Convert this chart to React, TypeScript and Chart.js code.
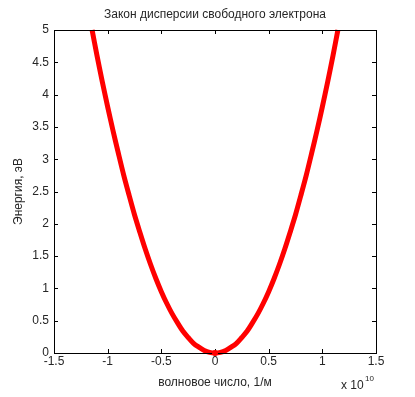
import React, { useEffect, useRef } from "react";
import { Chart, registerables } from "chart.js";

Chart.register(...registerables);

// wave number, units of 1e10 1/m
const waveNumbers = [
  -1.145, -1.1, -1.05, -1.0, -0.95, -0.9, -0.85, -0.8, -0.75, -0.7, -0.65, -0.6,
  -0.55, -0.5, -0.45, -0.4, -0.35, -0.3, -0.25, -0.2, -0.15, -0.1, -0.05, 0,
  0.05, 0.1, 0.15, 0.2, 0.25, 0.3, 0.35, 0.4, 0.45, 0.5, 0.55, 0.6, 0.65, 0.7,
  0.75, 0.8, 0.85, 0.9, 0.95, 1.0, 1.05, 1.1, 1.145,
];
// energy, eV
const energies = [
  5.0, 4.61, 4.2, 3.81, 3.44, 3.09, 2.75, 2.44, 2.14, 1.87, 1.61, 1.37,
  1.15, 0.95, 0.77, 0.61, 0.47, 0.34, 0.24, 0.15, 0.09, 0.04, 0.01, 0,
  0.01, 0.04, 0.09, 0.15, 0.24, 0.34, 0.47, 0.61, 0.77, 0.95, 1.15, 1.37, 1.61, 1.87,
  2.14, 2.44, 2.75, 3.09, 3.44, 3.81, 4.2, 4.61, 5.0,
];
const xTicks = [-1.5, -1, -0.5, 0, 0.5, 1, 1.5];
const yTicks = [0, 0.5, 1, 1.5, 2, 2.5, 3, 3.5, 4, 4.5, 5];

const titleText = "Закон дисперсии свободного электрона";
const xTitle = "волновое число, 1/м";
const yTitle = "Энергия, эВ";

const FONT = "'Liberation Sans', Arial, sans-serif";
const TEXT = "#262626";

const framePlugin = {
  id: "frame",
  afterDraw(chart: any) {
    const { ctx, chartArea: a, scales } = chart;
    ctx.save();
    ctx.strokeStyle = "#000";
    ctx.lineWidth = 1;
    ctx.strokeRect(Math.round(a.left) + 0.5, Math.round(a.top) + 0.5, Math.round(a.right - a.left), Math.round(a.bottom - a.top));
    const tl = 4;
    ctx.beginPath();
    xTicks.forEach((v) => {
      const x = Math.round(scales.x.getPixelForValue(v)) + 0.5;
      ctx.moveTo(x, a.bottom);
      ctx.lineTo(x, a.bottom - tl);
      ctx.moveTo(x, a.top);
      ctx.lineTo(x, a.top + tl);
    });
    yTicks.forEach((v) => {
      const y = Math.round(scales.y.getPixelForValue(v)) + 0.5;
      ctx.moveTo(a.left, y);
      ctx.lineTo(a.left + tl, y);
      ctx.moveTo(a.right, y);
      ctx.lineTo(a.right - tl, y);
    });
    ctx.stroke();

    // origin marker
    ctx.fillStyle = "#ff0000";
    ctx.beginPath();
    ctx.arc(scales.x.getPixelForValue(0), scales.y.getPixelForValue(0), 3, 0, Math.PI * 2);
    ctx.fill();

    ctx.fillStyle = TEXT;
    ctx.font = `12px ${FONT}`;
    ctx.textAlign = "center";
    ctx.textBaseline = "alphabetic";
    ctx.fillText(titleText, (a.left + a.right) / 2, 18);
    ctx.fillText(xTitle, (a.left + a.right) / 2, 386);
    ctx.textAlign = "left";
    ctx.fillText("x 10", 341, 389);
    ctx.font = `8px ${FONT}`;
    ctx.fillText("10", 365, 381);
    ctx.save();
    ctx.font = `12px ${FONT}`;
    ctx.translate(22, (a.top + a.bottom) / 2);
    ctx.rotate(-Math.PI / 2);
    ctx.textAlign = "center";
    ctx.fillText(yTitle, 0, 0);
    ctx.restore();
    ctx.restore();
  },
};

export default function App() {
  const ref = useRef<HTMLCanvasElement>(null);
  useEffect(() => {
    if (!ref.current) return;
    const chart = new Chart(ref.current, {
      type: "scatter",
      data: {
        datasets: [
          {
            data: waveNumbers.map((k, i) => ({ x: k, y: energies[i] })),
            showLine: true,
            borderColor: "#ff0000",
            backgroundColor: "#ff0000",
            borderWidth: 5,
            pointRadius: 0,
            tension: 0.3,
            clip: false as any,
          },
        ],
      },
      options: {
        animation: false,
        responsive: false,
        maintainAspectRatio: false,
        layout: { padding: { left: 0, right: 39, top: 30, bottom: 0 } },
        plugins: { legend: { display: false }, tooltip: { enabled: false }, title: { display: false } },
        scales: {
          x: {
            type: "linear",
            min: -1.5,
            max: 1.5,
            afterFit: (s: any) => { s.height = 44; },
            afterBuildTicks: (s: any) => { s.ticks = xTicks.map((v) => ({ value: v })); },
            grid: { display: false, drawTicks: false },
            border: { display: false },
            ticks: {
              padding: 1,
              color: TEXT,
              font: { family: FONT, size: 12 },
              maxRotation: 0,
              autoSkip: false,
              callback: (v: any) => String(v),
            },
          },
          y: {
            type: "linear",
            min: 0,
            max: 5,
            afterFit: (s: any) => { s.width = 54; },
            afterBuildTicks: (s: any) => { s.ticks = yTicks.map((v) => ({ value: v })); },
            grid: { display: false, drawTicks: false },
            border: { display: false },
            ticks: {
              padding: 5,
              color: TEXT,
              font: { family: FONT, size: 12 },
              autoSkip: false,
              callback: (v: any) => String(v),
            },
          },
        },
      },
      plugins: [framePlugin],
    });
    return () => chart.destroy();
  }, []);
  return (
    <div style={{ position: "fixed", left: 0, top: 0, width: 415, height: 397, background: "#fff" }}>
      <canvas ref={ref} width={415} height={397} style={{ width: 415, height: 397 }} />
    </div>
  );
}
